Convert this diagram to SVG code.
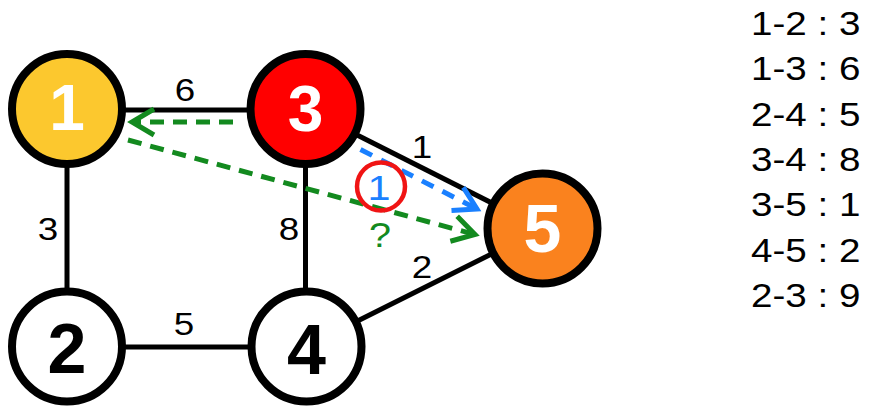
<svg xmlns="http://www.w3.org/2000/svg" width="870" height="416" viewBox="0 0 870 416">
<style>
.edge{stroke:#000;stroke-width:5;fill:none}
.node{stroke:#000;stroke-width:8}
.nl{font-family:"Liberation Sans",Arial,sans-serif;font-weight:bold;text-anchor:middle}
.el{font-family:"Liberation Sans",Arial,sans-serif;font-size:32px;text-anchor:middle;fill:#000}
.lg{font-family:"Liberation Sans",Arial,sans-serif;font-size:33px;fill:#000}
.g{stroke:#138A1F;stroke-width:5;fill:none;stroke-dasharray:14 9}
.b{stroke:#1A80FF;stroke-width:5;fill:none;stroke-dasharray:13 10}
</style>
<defs>
<marker id="ag" markerUnits="userSpaceOnUse" markerWidth="40" markerHeight="40" viewBox="-30 -20 40 40" refX="0" refY="0" orient="auto">
<path d="M-22,-13 L0,0 L-22,13" fill="none" stroke="#138A1F" stroke-width="5" stroke-dasharray="none"/>
</marker>
<marker id="ab" markerUnits="userSpaceOnUse" markerWidth="40" markerHeight="40" viewBox="-30 -20 40 40" refX="0" refY="0" orient="auto">
<path d="M-22,-13 L0,0 L-22,13" fill="none" stroke="#1A80FF" stroke-width="5" stroke-dasharray="none"/>
</marker>
</defs>
<rect width="870" height="416" fill="#fff"/>
<g id="connectors">
<line class="edge" x1="67" y1="110" x2="305" y2="110"/>
<line class="edge" x1="67" y1="109" x2="67" y2="346"/>
<line class="edge" x1="305.5" y1="109" x2="305.5" y2="346"/>
<line class="edge" x1="67" y1="347" x2="306" y2="347"/>
<line class="edge" x1="305.5" y1="109" x2="542.5" y2="228.5"/>
<line class="edge" x1="306.5" y1="346.5" x2="542.5" y2="228.5"/>
<line class="g" x1="233" y1="122" x2="132" y2="122" marker-end="url(#ag)"/>
<line class="g" x1="128" y1="140" x2="475" y2="234.5" marker-end="url(#ag)"/>
<line class="b" x1="340" y1="139" x2="477" y2="209" marker-end="url(#ab)"/>
<text class="el" transform="translate(185,101) scale(1.15,1)">6</text>
<text class="el" transform="translate(48,240) scale(1.15,1)">3</text>
<text class="el" transform="translate(289,240) scale(1.15,1)">8</text>
<text class="el" transform="translate(184,335) scale(1.15,1)">5</text>
<text class="el" transform="translate(422,158) scale(1.15,1)">1</text>
<text class="el" transform="translate(422,278) scale(1.15,1)">2</text>
</g>
<g id="node1"><circle class="node" cx="67" cy="109" r="55" fill="#FCC82E"/><text class="nl" x="67" y="130" font-size="64" fill="#fff">1</text></g>
<g id="node3"><circle class="node" cx="305.5" cy="109" r="55" fill="#FF0000"/><text class="nl" x="305.5" y="131" font-size="64" fill="#fff">3</text></g>
<g id="node2"><circle class="node" cx="67" cy="346.5" r="55" fill="#fff"/><text class="nl" x="67" y="373" font-size="70" fill="#000">2</text></g>
<g id="node4"><circle class="node" cx="306.5" cy="346.5" r="55" fill="#fff"/><text class="nl" x="306.5" y="374" font-size="70" fill="#000">4</text></g>
<g id="node5"><circle class="node" cx="542.5" cy="228.5" r="55" fill="#FA821E"/><text class="nl" x="542.5" y="252" font-size="68" fill="#fff">5</text></g>
<g id="annotations">
<circle cx="381" cy="186.5" r="24" fill="none" stroke="#F01414" stroke-width="4.5"/>
<text transform="translate(379,200) scale(1.15,1)" font-family="Liberation Sans,Arial,sans-serif" font-size="36" text-anchor="middle" fill="#1A80FF">1</text>
<text transform="translate(380,247) scale(1.1,1)" font-family="Liberation Sans,Arial,sans-serif" font-size="36" text-anchor="middle" fill="#138A1F">?</text>
</g>
<g id="legend" transform="translate(751,0) scale(1.17,1)">
<text class="lg" x="0" y="35">1-2 : 3</text>
<text class="lg" x="0" y="80.3">1-3 : 6</text>
<text class="lg" x="0" y="125.7">2-4 : 5</text>
<text class="lg" x="0" y="171">3-4 : 8</text>
<text class="lg" x="0" y="216.3">3-5 : 1</text>
<text class="lg" x="0" y="261.7">4-5 : 2</text>
<text class="lg" x="0" y="307">2-3 : 9</text>
</g>
</svg>
